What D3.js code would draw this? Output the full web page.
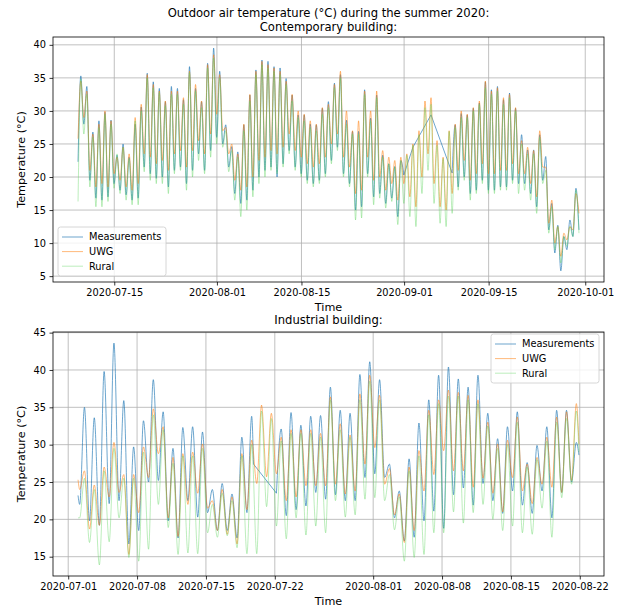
<!DOCTYPE html>
<html>
<head>
<meta charset="utf-8">
<script src="https://cdn.jsdelivr.net/npm/d3@7"></script>
<style>
  body { margin: 0; background: #fff; }
  svg text { font-family: "DejaVu Sans", sans-serif; fill: #000; }
</style>
</head>
<body>
<div id="charts"></div>
<script>
// ---- data: daily peaks and troughs ----
// Contemporary building, day 0 = 2020-07-09 (peak ~11h, trough ~23h)
const topStart = [22.3, 25.8, 16.3];   // measurements, UWG, rural at 07-09 00h
const topMeasMax = [35.3, 33.7, 26.8, 28.5, 29.8, 28.6, 23.3, 25.0, 23.0, 28.0,
  30.6, 35.7, 34.4, 33.4, 31.4, 33.7, 33.4, 31.7, 36.7, 33.4,
  31.4, 37.2, 39.5, 36.0, 27.9, 24.6, 23.8, 27.9, 32.4, 36.2,
  37.7, 37.5, 36.7, 36.5, 34.9, 32.4, 29.4, 29.4, 28.0, 27.9,
  30.4, 31.4, 34.2, 35.5, 28.6, 26.9, 26.9, 33.2, 28.9, 32.4,
  23.3, 22.0, 21.6, 22.5, null, 24.5, null, null, 29.4, null,
  null, null, 27.9, 29.6, 29.4, 30.4, 31.2, 34.4, 33.2, 33.7,
  31.7, 32.7, 30.4, 26.4, 24.1, 24.1, 26.4, 23.1, 16.0, 12.7,
  11.0, 13.5, 18.3];
const topMeasMin = [28.0, 19.5, 16.8, 16.5, 17.0, 19.0, 18.0, 17.3, 16.5, 16.8,
  21.5, 20.5, 19.8, 20.0, 18.5, 21.0, 21.5, 19.0, 21.0, 23.5,
  21.0, 24.0, 26.0, 25.0, 21.5, 17.5, 16.0, 16.5, 18.0, 20.0,
  21.0, 21.5, 20.0, 22.0, 24.0, 21.5, 20.5, 19.5, 19.0, 19.5,
  20.5, 22.5, 24.5, 20.5, 19.0, 15.0, 15.5, 20.5, 17.0, 17.5,
  16.0, 16.8, 14.0, 20.3, null, null, null, null, null, null,
  null, 20.6, 18.5, 20.0, 17.5, 18.0, 19.5, 18.0, 18.0, 18.5,
  18.5, 19.5, 19.0, 19.0, 17.5, 15.5, 19.5, 12.0, 8.5, 5.8,
  9.0, 11.0, 12.0];
const topUwgMax = [34.5, 33.0, 26.5, 28.0, 30.0, 28.5, 23.0, 24.5, 23.5, 29.0,
  31.0, 35.5, 34.0, 33.0, 31.5, 33.0, 33.0, 32.0, 36.0, 34.0,
  31.5, 37.0, 38.5, 35.5, 27.5, 25.0, 23.5, 28.0, 32.5, 36.0,
  37.5, 37.0, 36.5, 36.0, 34.5, 32.5, 30.0, 29.5, 28.5, 28.0,
  30.5, 31.0, 34.0, 36.0, 30.0, 27.0, 28.5, 33.0, 30.0, 33.0,
  24.0, 23.0, 22.5, 23.0, 23.5, 25.0, 27.0, 31.5, 32.0, 25.5,
  23.0, 27.0, 28.0, 30.0, 29.5, 30.5, 31.5, 34.5, 33.0, 33.5,
  32.0, 32.5, 30.5, 25.5, 24.5, 24.0, 27.0, 21.5, 16.5, 12.5,
  11.5, 12.5, 17.5];
const topUwgMin = [29.0, 21.0, 18.5, 19.0, 18.5, 20.5, 19.5, 18.5, 18.0, 19.0,
  23.5, 23.0, 22.0, 22.5, 21.0, 23.5, 24.0, 21.5, 24.0, 25.5,
  23.5, 26.5, 29.5, 27.0, 23.5, 19.5, 18.0, 18.5, 20.0, 22.5,
  23.0, 24.0, 23.5, 24.5, 26.5, 24.0, 23.0, 22.0, 21.5, 22.0,
  23.0, 25.0, 26.5, 23.0, 21.5, 17.5, 18.0, 23.0, 19.5, 20.0,
  18.0, 19.0, 16.5, 19.0, 17.0, 15.5, 20.0, 23.5, 19.0, 15.5,
  15.0, 17.5, 21.0, 22.5, 19.5, 20.5, 22.0, 20.5, 20.5, 21.0,
  21.0, 22.0, 20.5, 20.5, 19.0, 17.0, 21.5, 13.0, 10.0, 8.0,
  10.5, 12.0, 14.5];
const topRuralMax = [34.8, 32.5, 26.0, 27.5, 29.5, 28.0, 23.5, 24.5, 22.8, 28.5,
  30.0, 35.0, 33.5, 32.8, 30.8, 32.5, 32.5, 31.0, 35.8, 33.0,
  30.5, 36.5, 38.0, 35.0, 27.0, 24.0, 23.0, 27.0, 31.5, 35.5,
  37.0, 36.5, 36.0, 35.5, 34.0, 31.5, 29.0, 28.5, 27.5, 27.0,
  29.5, 30.5, 33.5, 35.0, 28.0, 26.5, 26.5, 32.5, 28.5, 32.0,
  23.0, 22.0, 21.5, 22.5, 23.3, 24.8, 26.4, 30.5, 31.0, 24.8,
  22.8, 26.9, 27.5, 29.0, 29.0, 30.0, 31.0, 33.5, 32.5, 33.0,
  31.0, 32.0, 30.0, 25.0, 23.5, 23.5, 26.0, 21.0, 15.5, 12.5,
  11.0, 12.5, 18.0];
const topRuralMin = [26.5, 18.5, 15.5, 15.5, 16.3, 18.3, 17.5, 16.5, 15.8, 15.8,
  20.8, 19.5, 19.0, 19.0, 17.5, 20.5, 21.0, 18.0, 20.0, 22.5,
  20.5, 23.0, 25.0, 24.5, 20.8, 16.5, 14.0, 15.0, 17.0, 19.0,
  20.0, 21.0, 20.5, 21.5, 23.5, 21.0, 20.0, 19.0, 18.5, 19.0,
  20.0, 22.0, 24.0, 20.0, 18.5, 13.5, 13.8, 20.0, 15.8, 16.8,
  15.3, 16.3, 12.8, 16.0, 14.0, 12.5, 17.5, 21.0, 16.0, 13.0,
  12.5, 14.5, 18.0, 19.5, 16.5, 17.5, 19.0, 17.5, 17.5, 18.0,
  18.0, 19.0, 17.5, 18.0, 16.5, 14.5, 19.0, 11.5, 9.0, 7.0,
  9.5, 11.0, 11.5];

// Industrial building, index 0 = 2020-07-02 (trough ~04h, peak ~16h)
const botStart = [23.2, 25.3, 20.2];   // at 07-02 00h
const botEnd = [28.6, 30.1, 29.0];     // at 08-21 22h
const botMeasGapEdge = [["2020-07-19T20:00", 27.4]];
const botMeasMin = [22.0, 19.8, 19.2, 22.1, 22.5, 16.7, 18.5, 25.0, 25.2, 19.8,
  17.5, 22.5, 20.3, 20.9, 18.5, 18.5, 17.5, 20.9, null, null,
  23.5, 20.5, 21.3, 21.8, 23.6, 22.7, 23.3, 22.5, 22.5, 25.6,
  26.1, 25.6, 20.2, 17.1, 17.6, 19.8, 21.1, 18.8, 23.3, 24.2,
  21.9, 24.8, 22.5, 20.8, 23.8, 21.9, 20.8, 23.8, 20.2, 23.6, 25.0];
const botMeasMax = [35.0, 33.6, 39.8, 43.6, 35.9, 29.7, 33.2, 38.7, 34.4, 29.5,
  32.3, 32.4, 31.7, 24.0, 24.8, 23.4, 31.0, 33.8, null, null,
  32.1, 34.3, 32.6, 33.8, 33.9, 37.7, 34.6, 34.2, 39.4, 41.1,
  38.7, 27.4, 23.8, 28.1, 32.9, 36.0, 39.3, 40.4, 38.8, 37.7,
  39.3, 34.2, 30.8, 32.4, 34.4, 27.6, 29.9, 32.4, 34.6, 34.6, 30.3];
const botUwgMin = [24.0, 18.7, 19.2, 23.0, 23.6, 15.3, 20.9, 25.6, 28.8, 20.2,
  17.7, 22.0, 23.5, 21.5, 18.5, 18.0, 16.7, 21.3, 24.8, 25.7,
  26.1, 22.5, 23.0, 24.5, 24.5, 24.5, 24.7, 23.4, 23.8, 27.4,
  29.6, 24.7, 20.6, 16.9, 18.5, 23.8, 26.0, 29.2, 26.5, 26.5,
  24.3, 25.5, 23.5, 21.0, 25.6, 23.8, 22.1, 24.7, 24.3, 23.6, 25.2];
const botUwgMax = [26.5, 24.6, 27.0, 30.3, 26.0, 26.0, 29.7, 34.8, 32.4, 28.3,
  28.8, 29.0, 30.1, 22.5, 24.0, 23.0, 28.8, 30.6, 35.3, 34.2,
  31.0, 32.0, 32.0, 32.0, 31.5, 36.4, 32.8, 31.3, 36.8, 39.3,
  36.6, 26.8, 23.4, 27.0, 29.2, 34.6, 36.0, 37.3, 37.0, 36.6,
  36.0, 33.0, 30.1, 30.6, 33.7, 27.4, 28.3, 31.0, 33.7, 34.4, 35.5];
const botRuralMin = [20.2, 16.9, 13.9, 17.0, 20.2, 14.9, 14.4, 16.0, 22.0, 18.9,
  15.3, 15.5, 15.4, 18.2, 17.6, 17.8, 16.2, 15.4, 15.4, 21.7,
  19.1, 17.4, 20.2, 17.9, 19.1, 18.2, 22.5, 20.3, 20.6, 22.7,
  22.9, 22.5, 18.6, 14.4, 14.9, 15.3, 18.2, 18.2, 21.0, 19.5,
  20.9, 22.0, 20.0, 18.5, 19.1, 18.2, 18.0, 21.5, 17.6, 22.9, 24.7];
const botRuralMax = [25.5, 24.0, 26.5, 29.5, 25.5, 25.5, 29.0, 34.0, 32.0, 27.5,
  28.5, 28.5, 29.5, 22.0, 23.5, 22.5, 28.5, 30.0, 34.5, 33.5,
  30.5, 31.5, 31.5, 31.5, 31.0, 36.0, 32.0, 31.0, 36.0, 38.5,
  36.0, 26.0, 23.0, 26.5, 28.5, 34.0, 35.5, 36.5, 36.5, 36.0,
  35.5, 32.5, 29.5, 30.0, 33.0, 27.0, 28.0, 30.5, 33.0, 33.5, 34.5];

const seriesNames = ["Measurements", "UWG", "Rural"];
const topTicksX = ["2020-07-15", "2020-08-01", "2020-08-15", "2020-09-01", "2020-09-15", "2020-10-01"];
const botTicksX = ["2020-07-01", "2020-07-08", "2020-07-15", "2020-07-22", "2020-08-01", "2020-08-08", "2020-08-15", "2020-08-22"];
const topTicksY = [5, 10, 15, 20, 25, 30, 35, 40];
const botTicksY = [15, 20, 25, 30, 35, 40, 45];

const colors = ["#1f77b4", "#ff7f0e", "#5fd35f"];
const opac = [0.65, 0.55, 0.42];

const HOUR = 3600 * 1000;
const parse = d3.utcParse("%Y-%m-%dT%H:%M");
const tickParse = d3.utcParse("%Y-%m-%d");

// top panel: start, then (peak, trough) per day
function topSeries(start, maxs, mins) {
  const day0 = Date.UTC(2020, 6, 9);
  const pts = [{t: new Date(day0), v: start}];
  maxs.forEach((m, i) => {
    pts.push({t: new Date(day0 + (i * 24 + 11) * HOUR), v: m});
    pts.push({t: new Date(day0 + (i * 24 + 23) * HOUR), v: mins[i]});
  });
  return pts.filter(p => p.v != null);
}

// bottom panel: start, then (trough, peak) per day, then end
function botSeries(start, mins, maxs, end, extra) {
  const day0 = Date.UTC(2020, 6, 2);
  const pts = [{t: new Date(day0), v: start}];
  mins.forEach((m, i) => {
    pts.push({t: new Date(day0 + (i * 24 + 4) * HOUR), v: m});
    pts.push({t: new Date(day0 + (i * 24 + 15.6) * HOUR), v: maxs[i]});
  });
  pts.push({t: new Date(day0 + (50 * 24 + 22) * HOUR), v: end});
  (extra || []).forEach(e => pts.push({t: parse(e[0]), v: e[1]}));
  return pts.filter(p => p.v != null).sort((a, b) => a.t - b.t);
}

const topData = [
  topSeries(topStart[0], topMeasMax, topMeasMin),
  topSeries(topStart[1], topUwgMax, topUwgMin),
  topSeries(topStart[2], topRuralMax, topRuralMin)
];
const botData = [
  botSeries(botStart[0], botMeasMin, botMeasMax, botEnd[0], botMeasGapEdge),
  botSeries(botStart[1], botUwgMin, botUwgMax, botEnd[1]),
  botSeries(botStart[2], botRuralMin, botRuralMax, botEnd[2])
];

const W = 624, H = 609;
const svg = d3.select("#charts").append("svg")
  .attr("width", W).attr("height", H);

// matplotlib-like 5% margins around the data
function padded(ext) {
  const span = ext[1] - ext[0];
  return [ext[0] - span * 0.05, ext[1] + span * 0.05];
}

// split a series where measurements are missing (gap > 14 h):
// continuous runs get a smooth curve, gaps are bridged with a straight line
function splitRuns(s) {
  const runs = [[s[0]]];
  for (let i = 1; i < s.length; i++) {
    if (s[i].t - s[i - 1].t > 14 * HOUR) runs.push([]);
    runs[runs.length - 1].push(s[i]);
  }
  return runs;
}

function panel(cfg) {
  const {left, top, width, height, data, ticksX, ticksY, legendPos} = cfg;
  const g = svg.append("g").attr("transform", `translate(${left},${top})`);
  const all = data.flat();

  const xe = padded(d3.extent(all, d => +d.t));
  const x = d3.scaleUtc().domain([new Date(xe[0]), new Date(xe[1])]).range([0, width]);
  const y = d3.scaleLinear().domain(padded(d3.extent(all, d => d.v))).range([height, 0]);

  const xTickDates = ticksX.map(tickParse);

  // grid
  g.append("g").selectAll("line").data(xTickDates).enter().append("line")
    .attr("x1", d => x(d)).attr("x2", d => x(d))
    .attr("y1", 0).attr("y2", height)
    .attr("stroke", "#b0b0b0").attr("stroke-width", 0.8);
  g.append("g").selectAll("line").data(ticksY).enter().append("line")
    .attr("x1", 0).attr("x2", width)
    .attr("y1", d => y(d)).attr("y2", d => y(d))
    .attr("stroke", "#b0b0b0").attr("stroke-width", 0.8);

  // lines
  const smooth = d3.line().x(d => x(d.t)).y(d => y(d.v)).curve(d3.curveMonotoneX);
  const straight = d3.line().x(d => x(d.t)).y(d => y(d.v));
  data.forEach((s, i) => {
    const runs = splitRuns(s);
    let d = "";
    runs.forEach((r, k) => {
      d += smooth(r);
      if (k < runs.length - 1) d += straight([r[r.length - 1], runs[k + 1][0]]);
    });
    g.append("path")
      .attr("d", d)
      .attr("fill", "none")
      .attr("stroke", colors[i])
      .attr("stroke-opacity", opac[i])
      .attr("stroke-width", 1)
      .attr("stroke-linejoin", "round");
  });

  // axes
  const xAxis = g.append("g")
    .attr("transform", `translate(0,${height})`)
    .call(d3.axisBottom(x).tickValues(xTickDates).tickFormat(d3.utcFormat("%Y-%m-%d"))
      .tickSize(3.5).tickPadding(3.5));
  const yAxis = g.append("g")
    .call(d3.axisLeft(y).tickValues(ticksY).tickSize(3.5).tickPadding(3.5));
  [xAxis, yAxis].forEach(a => {
    a.select(".domain").remove();
    a.selectAll("line").attr("stroke", "#000").attr("stroke-width", 0.8);
    a.selectAll("text").attr("font-size", 9.8).attr("font-family", "DejaVu Sans");
  });

  g.append("rect").attr("width", width).attr("height", height)
    .attr("fill", "none").attr("stroke", "#000").attr("stroke-width", 0.8);

  // labels
  g.append("text").attr("x", width / 2).attr("y", height + 29)
    .attr("text-anchor", "middle").attr("font-size", 11.2).text("Time");
  g.append("text")
    .attr("transform", `translate(${-28},${height / 2}) rotate(-90)`)
    .attr("text-anchor", "middle").attr("font-size", 11.2).text("Temperature (°C)");
  cfg.title.forEach((t, i) => {
    g.append("text").attr("x", width / 2).attr("y", cfg.titleY + i * 14)
      .attr("text-anchor", "middle").attr("font-size", 11.6).text(t);
  });

  // legend
  const lg = g.append("g").attr("transform", `translate(${legendPos[0]},${legendPos[1]})`);
  lg.append("rect").attr("width", 108).attr("height", 49).attr("rx", 2.5)
    .attr("fill", "#fff").attr("fill-opacity", 0.8)
    .attr("stroke", "#cccccc").attr("stroke-width", 0.8);
  const items = lg.selectAll("g.item").data(seriesNames).enter().append("g")
    .attr("transform", (d, i) => `translate(0,${10 + i * 14.6})`);
  items.append("line").attr("x1", 4).attr("x2", 25).attr("y1", 0).attr("y2", 0)
    .attr("stroke", (d, i) => colors[i]).attr("stroke-opacity", (d, i) => opac[i])
    .attr("stroke-width", 1);
  items.append("text").attr("x", 31).attr("y", 0).attr("dy", "0.35em")
    .attr("font-size", 9.8).text(d => d);
}

panel({
  left: 53, top: 37, width: 551, height: 245, data: topData,
  ticksX: topTicksX, ticksY: topTicksY,
  title: ["Outdoor air temperature (°C) during the summer 2020:", "Contemporary building:"],
  titleY: -20, legendPos: [5, 190]
});
panel({
  left: 53, top: 332, width: 551, height: 244, data: botData,
  ticksX: botTicksX, ticksY: botTicksY,
  title: ["Industrial building:"], titleY: -8, legendPos: [438, 2]
});
</script>
</body>
</html>
